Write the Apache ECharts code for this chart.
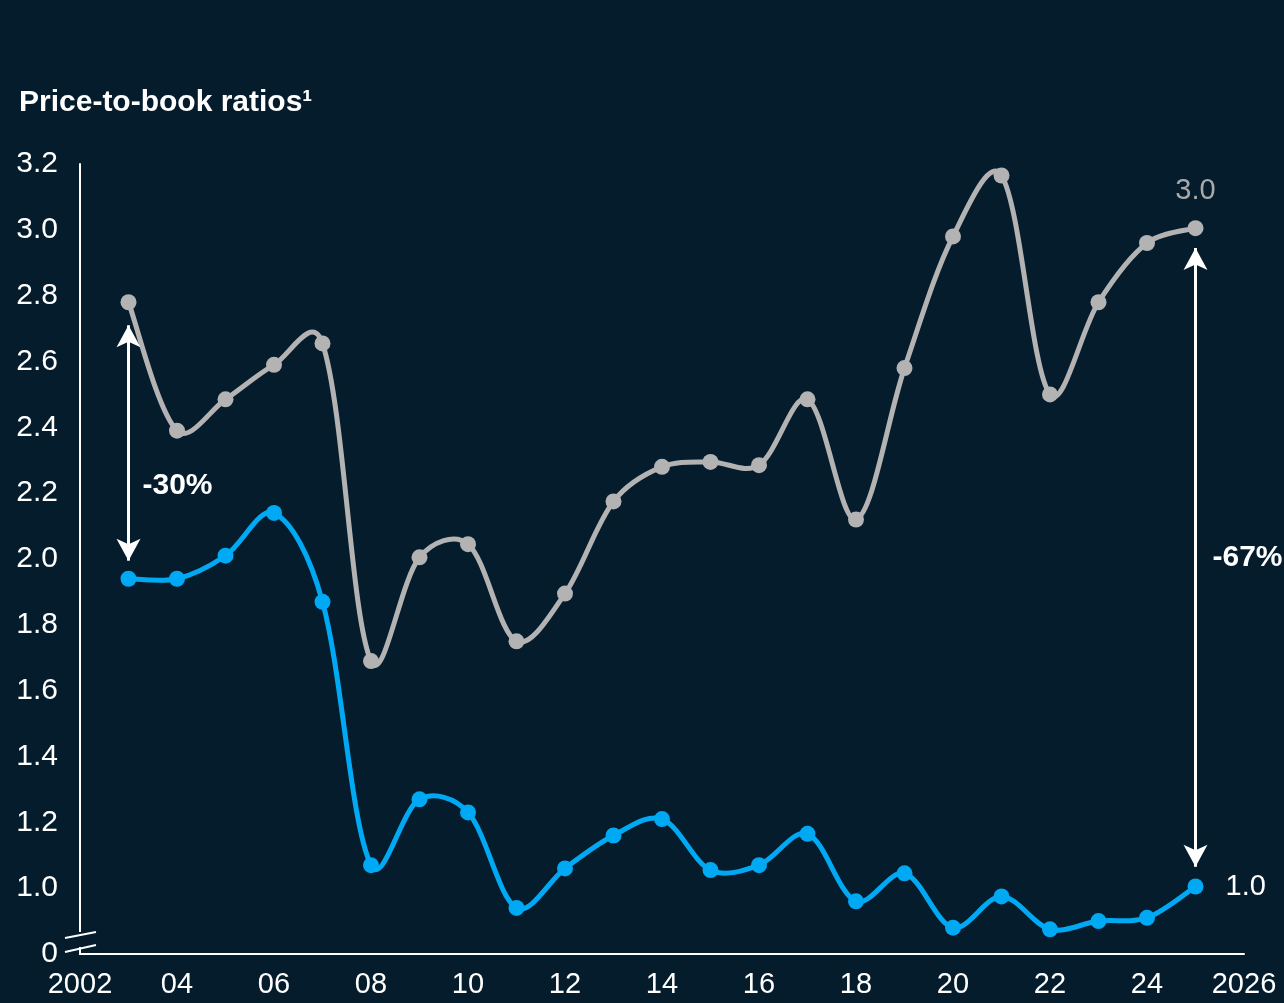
<!DOCTYPE html>
<html>
<head>
<meta charset="utf-8">
<script src="https://cdn.jsdelivr.net/npm/echarts@6/dist/echarts.min.js"></script>
<style>
html,body{margin:0;padding:0;background:#051c2c;}
#chart{width:1284px;height:1003px;}
</style>
</head>
<body>
<div id="chart"></div>
<script>
// ---- data ----
var years = [2003,2004,2005,2006,2007,2008,2009,2010,2011,2012,2013,2014,2015,2016,2017,2018,2019,2020,2021,2022,2023,2024,2025];
var greySeries = [2.78,2.39,2.485,2.59,2.655,1.69,2.005,2.045,1.75,1.895,2.175,2.28,2.295,2.285,2.485,2.12,2.58,2.98,3.165,2.50,2.78,2.96,3.005];
var blueSeries = [1.94,1.94,2.01,2.14,1.87,1.07,1.27,1.23,0.94,1.06,1.16,1.21,1.055,1.07,1.165,0.96,1.045,0.88,0.975,0.875,0.90,0.91,1.005];
var yTickLabels = {'0.8':'0','1':'1.0','1.2':'1.2','1.4':'1.4','1.6':'1.6','1.8':'1.8','2':'2.0','2.2':'2.2','2.4':'2.4','2.6':'2.6','2.8':'2.8','3':'3.0','3.2':'3.2'};
var xTickLabels = {2002:'2002',2004:'04',2006:'06',2008:'08',2010:'10',2012:'12',2014:'14',2016:'16',2018:'18',2020:'20',2022:'22',2024:'24',2026:'2026'};
var gapArrows = [
  {x:2003, from:2.71, to:1.995, label:'-30%'},
  {x:2025, from:2.945, to:1.065, label:'-67%'}
];
var endLabelGrey = '3.0';
var endLabelBlue = '1.0';

var BG = '#051c2c', GREY = '#b3b3b3', BLUE = '#00a9f4';
var FONT = '"Liberation Sans", Arial, sans-serif';

var chart = echarts.init(document.getElementById('chart'), null, {renderer:'canvas'});

function pairs(xs, ys){ return xs.map(function(x,i){ return [x, ys[i]]; }); }
var lastIdx = years.length - 1;

// smooth curve through the data (Bezier segments, blended Catmull-Rom tangents), via the axis scales
function curveSeries(ys, color, z){
  return {
    type: 'custom', coordinateSystem: 'cartesian2d', z: z, silent: true,
    data: pairs(years, ys),
    encode: {x: 0, y: 1},
    renderItem: function(params, api){
      var i = params.dataIndex;
      var n = years.length;
      if (i >= n - 1) return null;
      function P(k){ k = Math.max(0, Math.min(n-1, k)); return api.coord([years[k], ys[k]]); }
      function d(a, b){ return Math.sqrt((a[0]-b[0])*(a[0]-b[0]) + (a[1]-b[1])*(a[1]-b[1])) || 1e-6; }
      var p0 = P(i-1), p1 = P(i), p2 = P(i+1), p3 = P(i+2);
      var d01 = (i === 0) ? d(p1, p2) : d(p0, p1);
      var d12 = d(p1, p2);
      var d23 = (i+2 > n-1) ? d(p1, p2) : d(p2, p3);
      var f1 = 0.5 * (1/6) + 0.5 * (1/3) * d12 / (d01 + d12);
      var f2 = 0.5 * (1/6) + 0.5 * (1/3) * d12 / (d12 + d23);
      return {
        type: 'bezierCurve',
        shape: {
          x1: p1[0], y1: p1[1], x2: p2[0], y2: p2[1],
          cpx1: p1[0] + (p2[0]-p0[0])*f1, cpy1: p1[1] + (p2[1]-p0[1])*f1,
          cpx2: p2[0] - (p3[0]-p1[0])*f2, cpy2: p2[1] - (p3[1]-p1[1])*f2
        },
        style: {stroke: color, lineWidth: 5, fill: null, lineCap: 'round'}
      };
    }
  };
}

var option = {
  backgroundColor: BG,
  animation: false,
  title: {
    text: 'Price-to-book ratios\u00B9',
    left: 14, top: 83,
    textStyle: {color:'#ffffff', fontFamily: FONT, fontSize: 30, fontWeight: 'bold'}
  },
  grid: {left: 80, right: 40, top: 164, bottom: 49, containLabel: false},
  xAxis: {
    type: 'value', min: 2002, max: 2026, interval: 2,
    axisLine: {show: true, lineStyle: {color:'#ffffff', width: 2}},
    axisTick: {show: false},
    splitLine: {show: false},
    axisLabel: {
      color:'#ffffff', fontFamily: FONT, fontSize: 29, margin: 16,
      formatter: function(v){ return xTickLabels[Math.round(v)] || ''; }
    }
  },
  yAxis: {
    type: 'value', min: 0.8, max: 3.2, interval: 0.2,
    axisLine: {show: true, lineStyle: {color:'#ffffff', width: 2}},
    axisTick: {show: false},
    splitLine: {show: false},
    axisLabel: {
      color:'#ffffff', fontFamily: FONT, fontSize: 30, margin: 22,
      formatter: function(v){ var k = String(Math.round(v*10)/10); return yTickLabels[k] || ''; }
    }
  },
  series: [
    curveSeries(greySeries, GREY, 2),
    {
      name: 'grey', type: 'scatter',
      data: pairs(years, greySeries),
      symbol: 'circle', symbolSize: 16,
      itemStyle: {color: GREY, opacity: 1},
      z: 3,
      label: {
        show: true, position: 'top', distance: 15,
        color: '#a9a9a9', fontFamily: FONT, fontSize: 29,
        formatter: function(p){ return p.dataIndex === lastIdx ? endLabelGrey : ''; }
      },
      markLine: {
        silent: true, symbol: ['arrow','arrow'], symbolSize: [18, 22],
        lineStyle: {color:'#ffffff', width: 3, type:'solid', opacity: 1},
        label: {show: false},
        data: gapArrows.map(function(a){
          return [{coord:[a.x, a.from]}, {coord:[a.x, a.to]}];
        })
      }
    },
    curveSeries(blueSeries, BLUE, 4),
    {
      name: 'blue', type: 'scatter',
      data: pairs(years, blueSeries),
      symbol: 'circle', symbolSize: 16,
      itemStyle: {color: BLUE, opacity: 1},
      z: 5,
      label: {
        show: true, position: 'right', distance: 22, opacity: 1,
        color: '#ffffff', fontFamily: FONT, fontSize: 29,
        formatter: function(p){ return p.dataIndex === lastIdx ? endLabelBlue : ''; }
      }
    }
  ]
};
chart.setOption(option);

// annotations & axis break, positioned through the chart's own scales
function decorate(){
  var g = [];
  gapArrows.forEach(function(a, i){
    var top = chart.convertToPixel({gridIndex:0}, [a.x, a.from]);
    var bot = chart.convertToPixel({gridIndex:0}, [a.x, a.to]);
    var midY = (top[1] + bot[1]) / 2;
    g.push({
      type:'text', z: 50,
      style: {
        text: a.label, fill:'#ffffff', font: 'bold 30px ' + FONT,
        x: top[0] + (i === 0 ? 14 : 17), y: i === 0 ? midY + 43 : midY,
        textVerticalAlign: 'middle', textAlign: 'left'
      }
    });
  });
  // axis break marks
  var p0 = chart.convertToPixel({gridIndex:0}, [2002, 0.8]);
  var ax = p0[0], ay = p0[1];
  g.push({type:'rect', z: 60, shape:{x: ax-3, y: ay-22, width: 6, height: 15}, style:{fill: BG}});
  g.push({type:'line', z: 61, shape:{x1: ax-15, y1: ay-16, x2: ax+16, y2: ay-22}, style:{stroke:'#ffffff', lineWidth: 2}});
  g.push({type:'line', z: 61, shape:{x1: ax-15, y1: ay-2, x2: ax+16, y2: ay-9}, style:{stroke:'#ffffff', lineWidth: 2}});
  chart.setOption({graphic: g});
}
decorate();
</script>
</body>
</html>
